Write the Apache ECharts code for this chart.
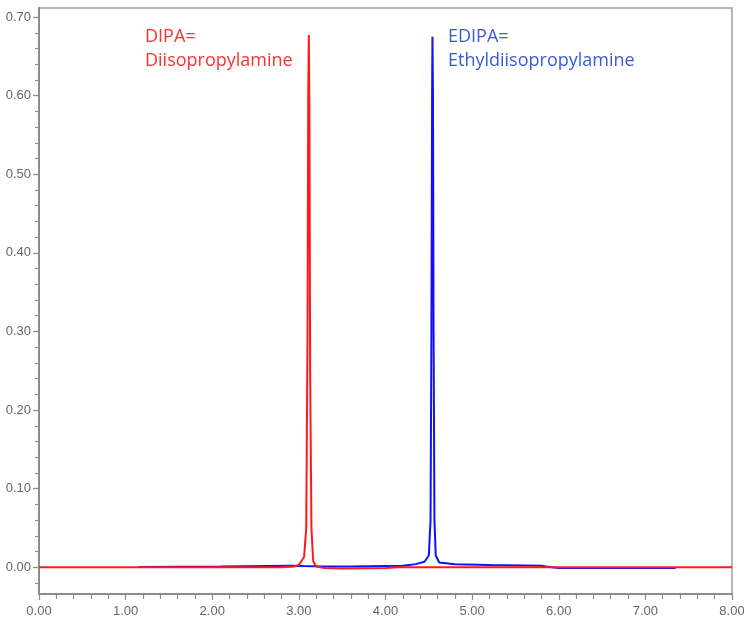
<!DOCTYPE html>
<html>
<head>
<meta charset="utf-8">
<script src="https://cdn.jsdelivr.net/npm/echarts@6/dist/echarts.min.js"></script>
<style>
  html, body { margin: 0; padding: 0; background: #fff; }
  #chart { width: 744px; height: 625px; }
</style>
</head>
<body>
<div id="chart"></div>
<script>
// chromatogram: DIPA (red) and EDIPA (blue)
const dipaX = [0, 0.3, 0.32, 1.5, 2.8, 2.95, 3.0, 3.03, 3.06, 3.085, 3.1, 3.108, 3.115, 3.122, 3.13, 3.145, 3.165, 3.2, 3.3, 3.5, 4.0, 4.15, 8.0];
const dipaY = [0, 0, 0.001, 0, 0, 0.001, 0.003, 0.008, 0.013, 0.05, 0.3, 0.6, 0.677, 0.58, 0.25, 0.05, 0.008, 0.001, -0.001, -0.0015, -0.001, 0, 0];

const edipaX = [1.15, 2.1, 2.12, 2.9, 3.05, 3.3, 3.6, 4.2, 4.35, 4.45, 4.5, 4.52, 4.53, 4.538, 4.542, 4.548, 4.555, 4.565, 4.58, 4.62, 4.8, 5.2, 5.8, 5.85, 6.0, 7.35];
const edipaY = [0.0005, 0.001, 0.002, 0.002, 0.0015, 0.001, 0.001, 0.002, 0.004, 0.007, 0.015, 0.06, 0.3, 0.6, 0.675, 0.6, 0.3, 0.06, 0.015, 0.006, 0.004, 0.003, 0.002, 0.001, -0.001, -0.001];

const yMajor = [0, 0.1, 0.2, 0.3, 0.4, 0.5, 0.6, 0.7];
const yMinor = [-0.02, 0, 0.02, 0.04, 0.06, 0.08, 0.1, 0.12, 0.14, 0.16, 0.18, 0.2, 0.22, 0.24, 0.26, 0.28, 0.3,
  0.32, 0.34, 0.36, 0.38, 0.4, 0.42, 0.44, 0.46, 0.48, 0.5, 0.52, 0.54, 0.56, 0.58, 0.6, 0.62, 0.64, 0.66, 0.68, 0.7];

const pair = (xs, ys) => xs.map((x, i) => [x, ys[i]]);

const chart = echarts.init(document.getElementById('chart'));
const axisGrey = '#8c8c8c';
const labelGrey = '#666';
const fmt = (v) => Number(v).toFixed(2);

chart.setOption({
  animation: false,
  grid: { left: 39, right: 12, top: 8, bottom: 31, show: true, borderColor: '#a0a0a0', borderWidth: 1.5,
    outerBoundsMode: 'none' },
  xAxis: {
    type: 'value', min: 0, max: 8, interval: 1,
    axisLine: { show: true, onZero: false, lineStyle: { color: axisGrey, width: 2 } },
    axisTick: { show: true, length: 6, lineStyle: { color: axisGrey, width: 1.2 } },
    minorTick: { show: true, splitNumber: 5, length: 5, lineStyle: { color: axisGrey, width: 1.2 } },
    axisLabel: { color: labelGrey, fontFamily: 'Liberation Sans', fontSize: 13, margin: 11, formatter: fmt },
    splitLine: { show: false }
  },
  yAxis: [{
    type: 'value', min: -0.034, max: 0.7115,
    axisLine: { show: true, onZero: false, lineStyle: { color: axisGrey, width: 2 } },
    axisTick: { show: true, length: 6, customValues: yMajor, lineStyle: { color: axisGrey, width: 1.2 } },
    axisLabel: { color: labelGrey, fontFamily: 'Liberation Sans', fontSize: 13, margin: 8, customValues: yMajor, formatter: fmt },
    splitLine: { show: false }
  }, {
    type: 'value', min: -0.034, max: 0.7115, position: 'left',
    axisLine: { show: false },
    axisTick: { show: true, length: 4, customValues: yMinor, lineStyle: { color: axisGrey, width: 1.2 } },
    axisLabel: { show: false },
    splitLine: { show: false }
  }],
  series: [
    { name: 'EDIPA', type: 'line', showSymbol: false, data: pair(edipaX, edipaY),
      lineStyle: { color: '#1010ff', width: 2 }, color: '#1010ff' },
    { name: 'DIPA', type: 'line', showSymbol: false, data: pair(dipaX, dipaY),
      lineStyle: { color: '#ff1a1a', width: 2 }, color: '#ff1a1a' }
  ],
  graphic: [
    { type: 'text', left: 145, top: 25, style: { text: 'DIPA=\nDiisopropylamine', fill: '#ff3030',
      font: '18px "Open Sans"', lineHeight: 24 } },
    { type: 'text', left: 448, top: 25, style: { text: 'EDIPA=\nEthyldiisopropylamine', fill: '#3a5bd9',
      font: '18px "Open Sans"', lineHeight: 24 } }
  ]
});
</script>
</body>
</html>
